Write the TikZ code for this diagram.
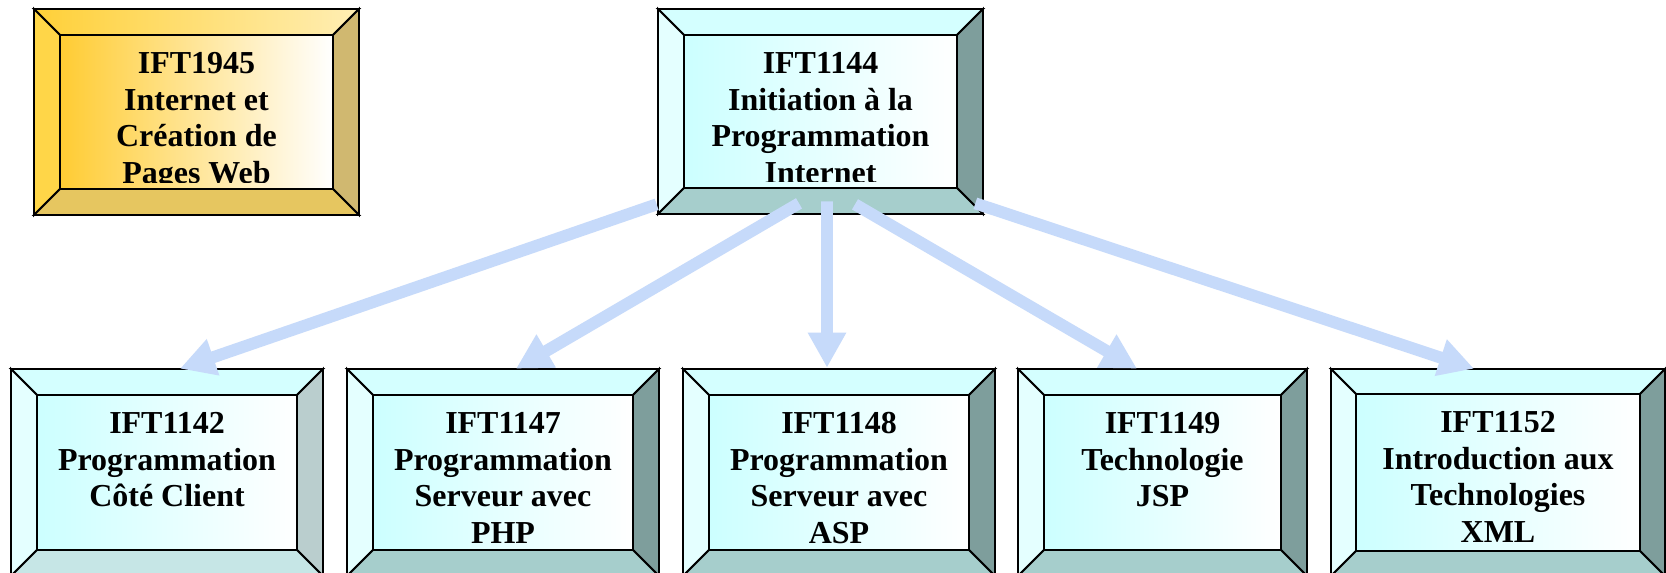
\documentclass[tikz,border=0pt]{standalone}
\usepackage{fontspec}
\setmainfont{Liberation Serif}
\usetikzlibrary{arrows.meta,calc}
\definecolor{cyTop}{RGB}{212,255,255}
\definecolor{cyLeft}{RGB}{228,255,255}
\definecolor{cyIn}{RGB}{204,255,255}
\definecolor{cyRight}{RGB}{126,158,156}
\definecolor{cyBot}{RGB}{166,206,204}
\definecolor{cyRightL}{RGB}{186,206,206}
\definecolor{cyBotL}{RGB}{198,230,230}
\definecolor{yeTopA}{RGB}{255,208,56}
\definecolor{yeTopB}{RGB}{255,238,180}
\definecolor{yeLeft}{RGB}{255,214,72}
\definecolor{yeIn}{RGB}{255,204,51}
\definecolor{yeRight}{RGB}{208,184,112}
\definecolor{yeBot}{RGB}{230,198,96}
\definecolor{arrowblue}{RGB}{198,218,250}
\tikzset{
  face/.style={draw=black, line width=1.1pt, line join=miter},
  cyantop/.style={face, fill=cyTop},
  cyanleft/.style={face, fill=cyLeft},
  cyanright/.style={face, fill=cyRight},
  cyanbot/.style={face, fill=cyBot},
  cyanin/.style={face, left color=cyIn, right color=white},
  cyanltop/.style={face, fill=cyTop},
  cyanlleft/.style={face, fill=cyLeft},
  cyanlright/.style={face, fill=cyRightL},
  cyanlbot/.style={face, fill=cyBotL},
  cyanlin/.style={face, left color=cyIn, right color=white},
  yellowtop/.style={face, left color=yeTopA, right color=yeTopB},
  yellowleft/.style={face, fill=yeLeft},
  yellowright/.style={face, fill=yeRight},
  yellowbot/.style={face, fill=yeBot},
  yellowin/.style={face, left color=yeIn, right color=white},
  boxtext/.style={inner sep=0pt, align=center, font=\fontsize{18.2}{20.8}\selectfont\bfseries},
  boxnode/.style={inner sep=0pt, draw=none},
  arr/.style={draw=arrowblue, line width=6.8pt, -{Triangle[width=0.72cm,length=0.70cm]}},
}
\newcommand\bevelbox[8]{%
  \pgfmathsetmacro\bXa{#2+#6}%
  \pgfmathsetmacro\bYa{#3+#6}%
  \pgfmathsetmacro\bXb{#4-#6}%
  \pgfmathsetmacro\bYb{#5-#6}%
  \pgfmathsetmacro\bYc{#5-#6-7}%
  \pgfmathsetmacro\bW{(#4-#2)*0.02*28.45274}%
  \pgfmathsetmacro\bH{(#5-#3)*0.02*28.45274}%
  \path[#7top] (#2,#3) -- (#4,#3) -- (\bXb,\bYa) -- (\bXa,\bYa) -- cycle;
  \path[#7left] (#2,#3) -- (\bXa,\bYa) -- (\bXa,\bYb) -- (#2,#5) -- cycle;
  \path[#7right] (#4,#3) -- (#4,#5) -- (\bXb,\bYb) -- (\bXb,\bYa) -- cycle;
  \path[#7bot] (#2,#5) -- (\bXa,\bYb) -- (\bXb,\bYb) -- (#4,#5) -- cycle;
  \path[#7in] (\bXa,\bYa) rectangle (\bXb,\bYb);
  \node[boxnode, minimum width=\bW pt, minimum height=\bH pt] (#1) at ({(#2+#4)/2},{(#3+#5)/2}) {};
  \begin{scope}
    \clip (\bXa,\bYa) rectangle (\bXb,\bYc);
    \node[boxtext, anchor=north] (#1txt) at ({(\bXa+\bXb)/2},{\bYa+17}) {#8};
  \end{scope}
}
\begin{document}
\begin{tikzpicture}[x=0.02cm, y=-0.02cm]
\useasboundingbox (0,0) rectangle (1666,572);
\clip (0,0) rectangle (1666,572);
\fill[white] (0,0) rectangle (1666,572);
\bevelbox{y1945}{34}{9}{359}{215}{26}{yellow}{IFT1945\\Internet et\\Création de\\Pages Web}
\bevelbox{top}{658}{9}{983}{214}{26}{cyan}{IFT1144\\Initiation à la\\Programmation\\Internet}
\bevelbox{b1}{11}{369}{323}{576}{26}{cyanl}{IFT1142\\Programmation\\Côté Client}
\bevelbox{b2}{347}{369}{659}{576}{26}{cyan}{IFT1147\\Programmation\\Serveur avec\\PHP}
\bevelbox{b3}{683}{369}{995}{576}{26}{cyan}{IFT1148\\Programmation\\Serveur avec\\ASP}
\bevelbox{b4}{1018}{369}{1307}{576}{26}{cyan}{IFT1149\\Technologie\\JSP}
\bevelbox{b5}{1331}{369}{1665}{576}{25}{cyan}{IFT1152\\Introduction aux\\Technologies\\XML}
\coordinate (s1) at ($(top.south west)+(-1,-10)$);
\coordinate (s2) at ($(top.south)+(-21.5,-11)$);
\coordinate (s3) at ($(top.south)+(6.5,-13)$);
\coordinate (s4) at ($(top.south)+(34.5,-10)$);
\coordinate (s5) at ($(top.south east)+(-8,-11)$);
\draw[arr] (s1) -- ($(b1.north)+(13,0)$);
\draw[arr] (s2) -- ($(b2.north)+(13,0)$);
\draw[arr] (s3) -- ($(b3.north)+(-12,-1)$);
\draw[arr] (s4) -- ($(b4.north)+(-25.5,0)$);
\draw[arr] (s5) -- ($(b5.north)+(-24,0)$);
\end{tikzpicture}
\end{document}
